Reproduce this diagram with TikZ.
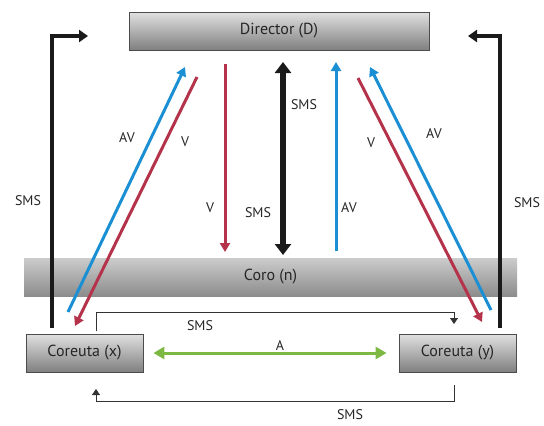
\documentclass[tikz,border=0pt]{standalone}
\usepackage{fontspec}
\setmainfont{PT Sans}
\usetikzlibrary{arrows.meta}

\definecolor{avblue}{HTML}{1B8FD3}
\definecolor{vred}{HTML}{B5334A}
\definecolor{agreen}{HTML}{7DB843}
\definecolor{smsblack}{HTML}{1A1A1A}

\begin{document}
\begin{tikzpicture}[
    x=1pt, y=-1pt,
    box/.style={draw=black!70, line width=0.8pt, top color=black!12, bottom color=black!50,
        minimum height=38pt, font=\fontsize{16}{19}\selectfont, text=black!85},
    bar/.style={top color=black!20, bottom color=black!45, minimum height=38pt,
        font=\fontsize{16}{19}\selectfont, text=black!85},
    av/.style={avblue, line width=3pt, -{Triangle[length=9pt,width=10pt]}},
    vv/.style={vred, line width=3pt, -{Triangle[length=9pt,width=10pt]}},
    sms/.style={smsblack, line width=4pt, -{Triangle[length=9pt,width=12pt]}},
    thin/.style={black!80, line width=0.8pt, -{Triangle[length=6pt,width=8pt]}},
    lbl/.style={font=\fontsize{14}{16}\selectfont, text=black!85}
]
\useasboundingbox (0,0) rectangle (544,426);

% boxes
\node[bar, minimum width=493pt] (coro) at (270.5,277) {Coro (n)};
\node[box, minimum width=300pt] (dir) at (279,31) {Director (D)};
\node[box, minimum width=117pt] (cx) at (84.5,353) {Coreuta (x)};
\node[box, minimum width=117pt] (cy) at (457.5,353) {Coreuta (y)};

% free ends
\coordinate (lsb) at (52,328);
\coordinate (lse) at (88,36);
\coordinate (rsb) at (500,328);
\coordinate (rse) at (468,36);
\coordinate (lab) at (68,312);
\coordinate (lat) at (185,67);
\coordinate (lvt) at (197,77);
\coordinate (lvb) at (75,326);
\coordinate (mvt) at (225,64);
\coordinate (mvb) at (225,252);
\coordinate (mst) at (283,62);
\coordinate (msb) at (283,255);
\coordinate (mab) at (336,251);
\coordinate (mat) at (336,62);
\coordinate (rvt) at (358,78);
\coordinate (rvb) at (482,322);
\coordinate (rab) at (491,310);
\coordinate (rat) at (370,67);
\coordinate (t1) at (96,331);
\coordinate (t2) at (454,312);
\coordinate (t3) at (454,324);
\coordinate (b1) at (454,385);
\coordinate (b2) at (96,401);
\coordinate (b3) at (96,389);

% SMS sides
\draw[sms] (lsb) |- (lse);
\draw[sms] (rsb) |- (rse);

% left diagonals
\draw[av] (lab) -- (lat);
\draw[vv] (lvt) -- (lvb);

% middle
\draw[vv] (mvt) -- (mvb);
\draw[smsblack, line width=6pt, {Triangle[length=11pt,width=16pt]}-{Triangle[length=11pt,width=16pt]}] (mst) -- (msb);
\draw[av] (mab) -- (mat);

% right diagonals
\draw[vv] (rvt) -- (rvb);
\draw[av] (rab) -- (rat);

% between coreutas
\draw[agreen, line width=3pt, {Triangle[length=11pt,width=12pt]}-{Triangle[length=11pt,width=12pt]}] ([xshift=10pt]cx.east) -- ([xshift=-12pt]cy.west);
\draw[thin] (t1) |- (t2) -- (t3);
\draw[thin] (b1) |- (b2) -- (b3);

% labels
\node[lbl] (l1) at (127,138) {AV};
\node[lbl] (l2) at (185,142) {V};
\node[lbl] (l3) at (210,208) {V};
\node[lbl] (l4) at (304,105) {SMS};
\node[lbl] (l5) at (258,213) {SMS};
\node[lbl] (l6) at (349,208) {AV};
\node[lbl] (l7) at (371,143) {V};
\node[lbl] (l8) at (434,134) {AV};
\node[lbl] (l9) at (28,201) {SMS};
\node[lbl] (l10) at (527,203) {SMS};
\node[lbl] (l11) at (200,326) {SMS};
\node[lbl] (l12) at (280,346) {A};
\node[lbl] (l13) at (350,415) {SMS};
\end{tikzpicture}
\end{document}
